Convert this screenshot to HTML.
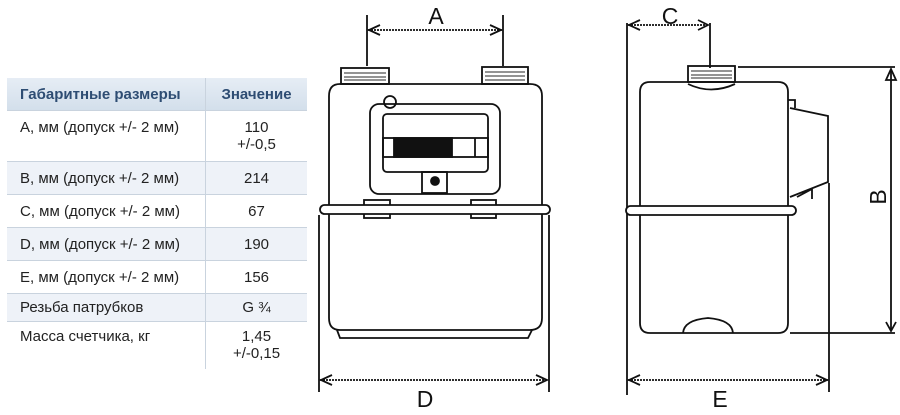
<!DOCTYPE html>
<html><head><meta charset="utf-8"><style>
body{margin:0;width:900px;height:415px;background:#fff;position:relative;overflow:hidden;font-family:"Liberation Sans",Arial,sans-serif}
table{position:absolute;left:7px;top:78px;width:300px;border-collapse:collapse;font-size:15px;color:#222}
td,th{border-bottom:1px solid #c9d3de;padding:0}
th{background:linear-gradient(#e6edf5,#d3dfeb);color:#2e4d73;font-weight:bold;height:32px;text-align:left;font-size:15px}
td.l{padding-left:13px;vertical-align:top;padding-top:8px;white-space:nowrap}
td.r{text-align:center;vertical-align:top;padding-top:8px;border-left:1px solid #c9d3de}
th.r{text-align:center;border-left:1px solid #c9d3de}
tr.alt td{background:#eef2f8}
</style></head><body>
<table>
<tr><th style="padding-left:13px;width:185px">Габаритные размеры</th><th class="r">Значение</th></tr>
<tr style="height:51px"><td class="l">А, мм (допуск +/- 2 мм)</td><td class="r">110<br>+/-0,5</td></tr>
<tr class="alt" style="height:33px"><td class="l">В, мм (допуск +/- 2 мм)</td><td class="r">214</td></tr>
<tr style="height:33px"><td class="l">С, мм (допуск +/- 2 мм)</td><td class="r">67</td></tr>
<tr class="alt" style="height:33px"><td class="l">D, мм (допуск +/- 2 мм)</td><td class="r">190</td></tr>
<tr style="height:33px"><td class="l">Е, мм (допуск +/- 2 мм)</td><td class="r">156</td></tr>
<tr class="alt" style="height:28px"><td class="l" style="padding-top:5px">Резьба патрубков</td><td class="r" style="padding-top:5px">G ¾</td></tr>
<tr style="height:47px"><td class="l" style="border:none;padding-top:6px">Масса счетчика, кг</td><td class="r" style="border-bottom:none;padding-top:6px">1,45<br>+/-0,15</td></tr>
</table>
<svg width="900" height="415" style="position:absolute;left:0;top:0" fill="none" stroke="#111" stroke-width="1.8">
<g font-family="Liberation Sans,Arial,sans-serif" font-size="23" fill="#111" stroke="none" text-anchor="middle">
<text x="436" y="24">A</text><text x="425" y="407">D</text><text x="670" y="24">C</text><text x="720" y="407">E</text>
<text x="0" y="0" transform="translate(886,197) rotate(-90)">B</text>
</g>
<!-- front -->
<line x1="367" y1="15" x2="367" y2="66"/><line x1="503" y1="15" x2="503" y2="66"/>
<line x1="368" y1="30" x2="502" y2="30" stroke-dasharray="2 1"/>
<path d="M380 25 L369 30 L380 35 M490 25 L501 30 L490 35"/>
<rect x="341" y="68" width="48" height="16"/>
<path d="M344 73h42M344 77h42M344 80h42" stroke="#555" stroke-width="1.2"/>
<rect x="482" y="67" width="46" height="17"/>
<path d="M485 72h40M485 76h40M485 80h40" stroke="#555" stroke-width="1.2"/>
<path d="M340 84 H530 Q542 84 542 96 V318 Q542 330 530 330 H340 Q329 330 329 318 V96 Q329 84 340 84Z"/>
<path d="M337 330 L340 338 H528 L532 330"/>
<circle cx="390" cy="102" r="6"/>
<rect x="370" y="104" width="130" height="90" rx="9"/>
<rect x="383" y="114" width="105" height="58" rx="4"/>
<rect x="383" y="138" width="105" height="19"/>
<rect x="394" y="138" width="58" height="19" fill="#111"/>
<line x1="475" y1="138" x2="475" y2="157"/>
<rect x="422" y="172" width="25" height="21"/>
<circle cx="435" cy="181" r="4" fill="#111"/>
<rect x="364" y="200" width="26" height="18" fill="#fff"/>
<rect x="471" y="200" width="25" height="18" fill="#fff"/>
<rect x="320" y="205" width="230" height="9" rx="4.5" fill="#fff"/>
<line x1="319" y1="215" x2="319" y2="392"/><line x1="549" y1="215" x2="549" y2="392"/>
<line x1="320" y1="380" x2="548" y2="380" stroke-dasharray="2 1"/>
<path d="M332 375 L321 380 L332 385 M536 375 L547 380 L536 385"/>
<!-- side -->
<line x1="627" y1="23" x2="627" y2="395"/>
<line x1="710" y1="23" x2="710" y2="68"/>
<line x1="628" y1="25" x2="709" y2="25" stroke-dasharray="2 1"/>
<path d="M640 20 L629 25 L640 30 M698 20 L708 25 L698 30"/>
<rect x="688" y="66" width="47" height="16"/>
<path d="M691 71h41M691 75h41M691 78h41" stroke="#555" stroke-width="1.2"/>
<path d="M688 84 Q711 95 735 84"/>
<path d="M650 82 H778 Q788 82 788 92 V323 Q788 333 778 333 H650 Q640 333 640 323 V92 Q640 82 650 82Z"/>
<path d="M683 333 Q684 320 708 318 Q732 320 733 333"/>
<path d="M788 100 H795 V108 M790 108 L828 116 V182 L790 197 M797 197 L812 189 V199"/>
<line x1="829" y1="183" x2="829" y2="392"/>
<line x1="738" y1="67" x2="895" y2="67"/>
<line x1="790" y1="333" x2="895" y2="333"/>
<line x1="891" y1="69" x2="891" y2="331"/>
<path d="M886 80 L891 69 L896 80Z M886 322 L891 331 L896 322"/>
<rect x="626" y="206" width="170" height="9" rx="4.5" fill="#fff"/>
<line x1="628" y1="380" x2="828" y2="380" stroke-dasharray="2 1"/>
<path d="M640 375 L629 380 L640 385 M816 375 L827 380 L816 385"/>
</svg>
</body></html>
